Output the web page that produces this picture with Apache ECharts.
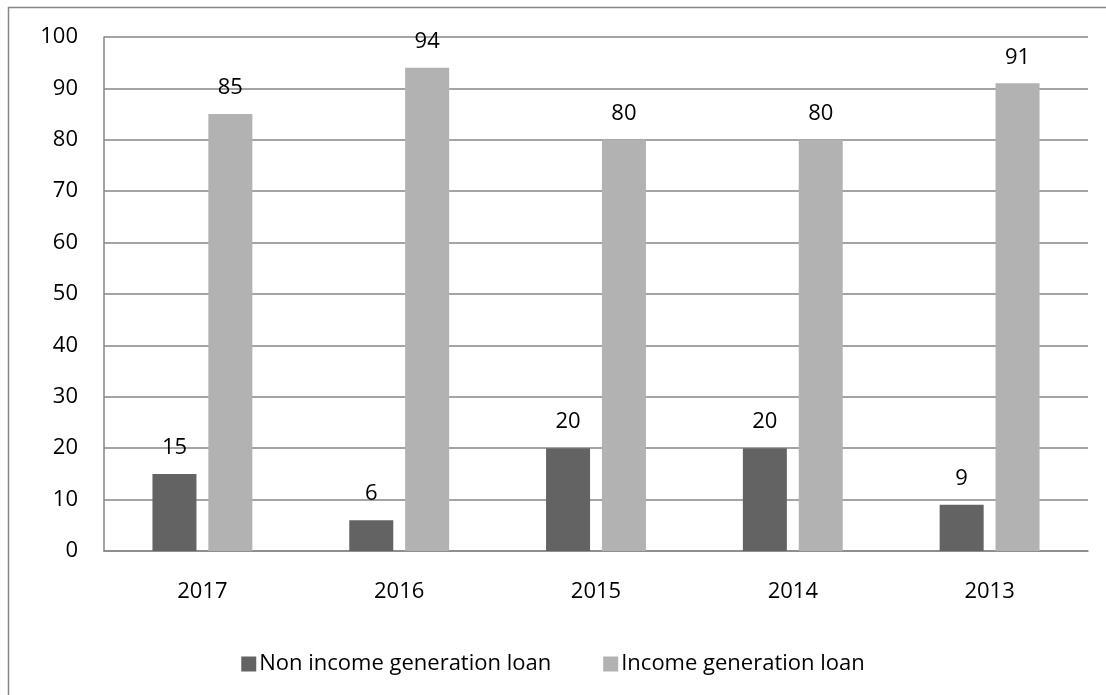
<!DOCTYPE html>
<html><head><meta charset="utf-8">
<script src="https://cdn.jsdelivr.net/npm/echarts@6/dist/echarts.min.js"></script>
<style>html,body{margin:0;padding:0;background:#fff}#c{width:1106px;height:695px}</style>
</head><body><div id="c"></div>
<script>
const categories = ['2017','2016','2015','2014','2013'];
const nonIncome = [15, 6, 20, 20, 9];
const income = [85, 94, 80, 80, 91];
const seriesNames = ['Non income generation loan','Income generation loan'];

const chart = echarts.init(document.getElementById('c'));
const font = 'Open Sans';
const fs = 22;
const lbl = {show:true, position:'top', distance:15, color:'#000', fontSize:fs, fontFamily:font};
chart.setOption({
  animation:false,
  graphic:[{type:'rect', shape:{x:8.5,y:7.5,width:1200,height:800}, style:{fill:'none',stroke:'#868686',lineWidth:1.5}, silent:true}],
  grid:{left:104, right:18, top:37, bottom:144},
  legend:{top:648, left:'center', itemWidth:15, itemHeight:15, itemGap:52, icon:'rect',
    textStyle:{fontSize:fs, fontFamily:font, color:'#000', padding:[0,0,0,-2]}, data:seriesNames},
  xAxis:{type:'category', data:categories,
    axisLine:{lineStyle:{color:'#868686', width:1.5}}, axisTick:{show:false},
    axisLabel:{color:'#000', fontSize:fs, fontFamily:font, margin:30}},
  yAxis:{type:'value', min:0, max:100, interval:10,
    axisLine:{show:true, lineStyle:{color:'#868686', width:1.5}}, axisTick:{show:false},
    splitLine:{lineStyle:{color:'#868686', width:1.5}},
    axisLabel:{color:'#000', fontSize:fs, fontFamily:font, margin:26}},
  series:[
    {name:seriesNames[0], type:'bar', data:nonIncome, barWidth:44, barGap:'27%', itemStyle:{color:'#636363'}, label:lbl},
    {name:seriesNames[1], type:'bar', data:income, barWidth:44, itemStyle:{color:'#b2b2b2'}, label:lbl}
  ]
});
</script></body></html>
